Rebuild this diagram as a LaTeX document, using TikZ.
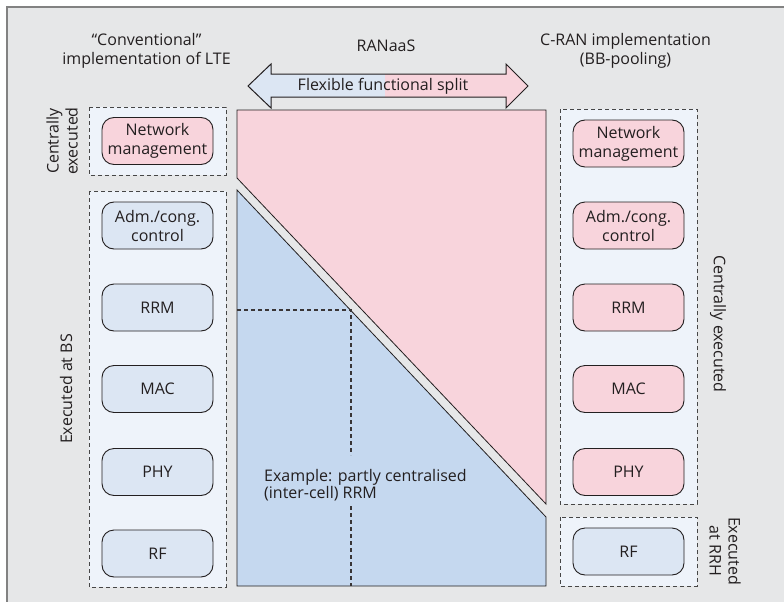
\documentclass[tikz,border=0pt]{standalone}
\usepackage{fontspec}
\setmainfont{Open Sans}
\definecolor{bggray}{RGB}{230,231,232}
\definecolor{framegray}{RGB}{130,130,130}
\definecolor{boxfill}{RGB}{238,243,250}
\definecolor{pinkc}{RGB}{248,212,220}
\definecolor{lblue}{RGB}{220,230,243}
\definecolor{bigblue}{RGB}{197,216,239}
\definecolor{ink}{RGB}{35,31,32}
\definecolor{dashc}{RGB}{70,70,70}
\begin{document}
\begin{tikzpicture}[x=1pt,y=-1pt,
  every node/.style={font=\fontsize{16}{19}\selectfont, text=ink},
  fnbox/.style={draw=ink, line width=0.9pt, rounded corners=12pt, minimum width=111pt, minimum height=47pt, align=center, inner sep=2pt},
  pinkbox/.style={fnbox, fill=pinkc},
  bluebox/.style={fnbox, fill=lblue},
  groupbox/.style={draw=dashc, line width=0.9pt, dash pattern=on 4pt off 3pt, fill=boxfill},
  outl/.style={draw=ink, line width=0.8pt},
  title/.style={align=center},
  exline/.style={draw=ink!90, line width=1.6pt, dash pattern=on 4pt off 3pt}
]
\useasboundingbox (0,0) rectangle (784,602);
\fill[bggray] (7,7) rectangle (784,602);
\draw[framegray, line width=1.5pt] (7,602) -- (7,7) -- (784,7);

% titles
\node[title] (conv) at (146.5,51) {“Conventional”\\implementation of LTE};
\node[title] (ranaas) at (386,46) {RANaaS};
\node[title] (cran) at (625.5,51) {C-RAN implementation\\(BB-pooling)};

% arrow
\begin{scope}
  \clip (248,86) -- (271,64) -- (271,74) -- (506,74) -- (506,64) -- (528,86) -- (506,108) -- (506,97) -- (271,97) -- (271,108) -- cycle;
  \fill[lblue] (240,60) rectangle (385,112);
  \fill[pinkc] (385,60) rectangle (535,112);
\end{scope}
\draw[outl, line width=1pt] (248,86) -- (271,64) -- (271,74) -- (506,74) -- (506,64) -- (528,86) -- (506,108) -- (506,97) -- (271,97) -- (271,108) -- cycle;
\node (flex) at (383,86) {Flexible functional split};

% left groups
\draw[groupbox] (89,107) rectangle (226,175);
\draw[groupbox] (89,191) rectangle (226,587);
\node[rotate=90, align=center] (lce) at (62,141) {Centrally\\executed};
\node[rotate=90] (lbs) at (66,389) {Executed at BS};
\node[pinkbox] (lnm) at (157.5,141) {Network\\management};
\node[bluebox] (ladm) at (157.5,225.5) {Adm./cong.\\control};
\node[bluebox] (lrrm) at (157.5,307.5) {RRM};
\node[bluebox] (lmac) at (157.5,389) {MAC};
\node[bluebox] (lphy) at (157.5,472) {PHY};
\node[bluebox] (lrf) at (157.5,553.5) {RF};

% right groups
\draw[groupbox] (560,109) rectangle (697,504);
\draw[groupbox] (560,517) rectangle (697,586);
\node[rotate=-90] (rce) at (718,324) {Centrally executed};
\node[rotate=-90, align=center] (rrh) at (725,551) {Executed\\at RRH};
\node[pinkbox] (rnm) at (628.5,143.5) {Network\\management};
\node[pinkbox] (radm) at (628.5,225.5) {Adm./cong.\\control};
\node[pinkbox] (rrrm) at (628.5,307.5) {RRM};
\node[pinkbox] (rmac) at (628.5,389) {MAC};
\node[pinkbox] (rphy) at (628.5,472) {PHY};
\node[bluebox] (rrf) at (628.5,551.5) {RF};

% central split
\draw[outl, fill=pinkc] (237,110) -- (546,110) -- (546,504) -- (237,178) -- cycle;
\draw[outl, fill=bigblue] (237,190) -- (546,517) -- (546,586) -- (237,586) -- cycle;

\coordinate (c0) at (237,310);
\coordinate (c1) at (351,310);
\coordinate (c2) at (351,455);
\coordinate (c3) at (351,506);
\coordinate (c4) at (351,586);
\draw[exline] (c0) -- (c1) -- (c2);
\draw[exline] (c3) -- (c4);
\node[anchor=west, align=left, font=\fontsize{16}{16.5}\selectfont, inner sep=0pt] (ex) at (264,485) {Example: partly centralised\\(inter-cell) RRM};
\end{tikzpicture}
\end{document}
